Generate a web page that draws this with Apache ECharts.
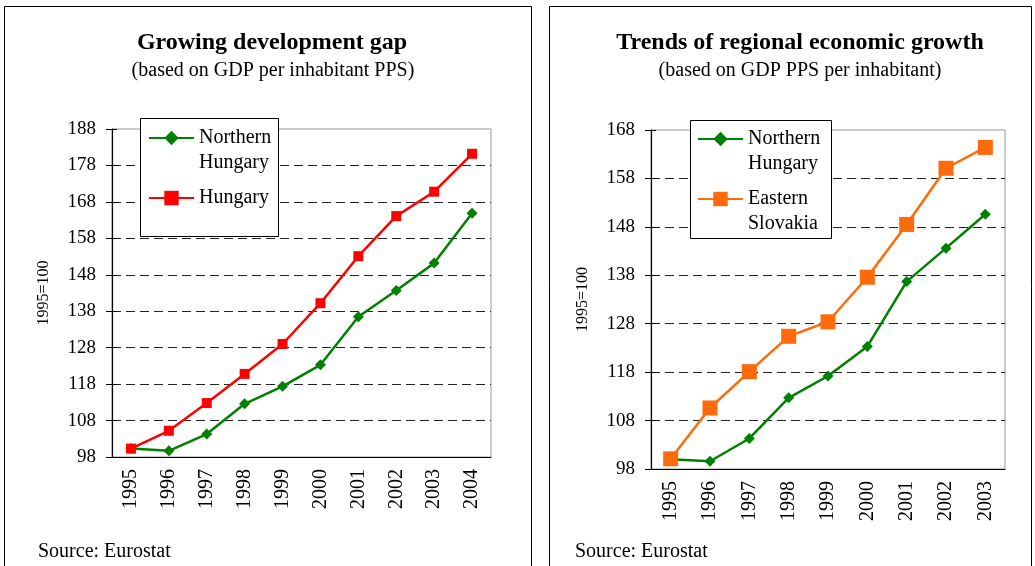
<!DOCTYPE html>
<html>
<head>
<meta charset="utf-8">
<script src="https://cdn.jsdelivr.net/npm/echarts@6/dist/echarts.min.js"></script>
<style>
  html, body { margin: 0; padding: 0; background: #fff; }
  #main { width: 1035px; height: 566px; }
</style>
</head>
<body>
<div id="main"></div>
<script>
var years1 = ['1995', '1996', '1997', '1998', '1999', '2000', '2001', '2002', '2003', '2004'];
var years2 = ['1995', '1996', '1997', '1998', '1999', '2000', '2001', '2002', '2003'];

// left chart: Growing development gap
var northHu1 = [100.3, 99.7, 104.3, 112.6, 117.4, 123.3, 136.5, 143.7, 151.2, 164.9];
var hungary = [100.3, 105.2, 112.8, 120.8, 129.0, 140.2, 153.1, 164.1, 170.8, 181.2];

// right chart: Trends of regional economic growth
var northHu2 = [100.0, 99.6, 104.3, 112.7, 117.2, 123.3, 136.7, 143.6, 150.6];
var eastSk = [100.1, 110.6, 118.1, 125.4, 128.4, 137.6, 148.5, 160.1, 164.4];

var serif = '"Liberation Serif", "DejaVu Serif", serif';
var chart = echarts.init(document.getElementById('main'));

function xAxisFor(idx, data) {
  return {
    type: 'category', gridIndex: idx, data: data,
    axisLine: { lineStyle: { color: '#000', width: 1 } },
    axisTick: { length: 6, lineStyle: { color: '#000' } },
    axisLabel: { rotate: 90, margin: 12, color: '#000', fontFamily: serif, fontSize: 20 }
  };
}

function yAxisFor(idx, max) {
  return {
    type: 'value', gridIndex: idx, min: 98, max: max, interval: 10, position: 'left',
    name: '1995=100', nameLocation: 'middle', nameRotate: 90, nameGap: 60,
    nameTextStyle: { color: '#000', fontFamily: serif, fontSize: 16 },
    axisLine: { show: true, lineStyle: { color: '#000', width: 1.2 } },
    axisTick: { show: true, length: 6, lineStyle: { color: '#000' } },
    axisLabel: { margin: 16, color: '#000', fontFamily: serif, fontSize: 19 },
    splitLine: { show: true, showMaxLine: false, lineStyle: { color: '#222', type: [9, 5], width: 1 } }
  };
}

// second axis only for the inner half of the crossing ticks
function innerTicks(idx, max) {
  return {
    type: 'value', gridIndex: idx, min: 98, max: max, interval: 10, position: 'left',
    axisLine: { show: false }, axisLabel: { show: false }, splitLine: { show: false },
    axisTick: { show: true, inside: true, length: 5, lineStyle: { color: '#000' } }
  };
}

function legendAt(name, text, left, top) {
  return {
    data: [name], left: left, top: top, orient: 'vertical', padding: 0,
    itemWidth: 45, itemHeight: 18, selectedMode: false,
    formatter: function () { return text; },
    textStyle: { color: '#000', fontFamily: serif, fontSize: 20, lineHeight: 25 }
  };
}

var option = {
  animation: false,
  backgroundColor: '#fff',
  grid: [
    { left: 112, top: 129, width: 379, height: 328, show: true, borderColor: '#999', borderWidth: 1 },
    { left: 651, top: 130, width: 354, height: 339, show: true, borderColor: '#999', borderWidth: 1 }
  ],
  xAxis: [xAxisFor(0, years1), xAxisFor(1, years2)],
  yAxis: [yAxisFor(0, 188), yAxisFor(1, 168), innerTicks(0, 188), innerTicks(1, 168)],
  legend: [
    legendAt('Northern Hungary', '\nNorthern\nHungary', 148, 100.5),
    legendAt('Hungary', 'Hungary', 148, 185.5),
    legendAt('Northern Hungary', '\nNorthern\nHungary', 697, 101.5),
    legendAt('Eastern Slovakia', '\nEastern\nSlovakia', 697, 161.5)
  ],
  series: [
    {
      name: 'Northern Hungary', type: 'line', xAxisIndex: 0, yAxisIndex: 0, data: northHu1,
      symbol: 'diamond', symbolSize: 11, color: '#008000',
      lineStyle: { width: 2.5 }, itemStyle: { color: '#008000' }
    },
    {
      name: 'Hungary', type: 'line', xAxisIndex: 0, yAxisIndex: 0, data: hungary,
      symbol: 'rect', symbolSize: 10, color: '#ff0000',
      lineStyle: { width: 2.5 }, itemStyle: { color: '#ff0000' }
    },
    {
      name: 'Northern Hungary', type: 'line', xAxisIndex: 1, yAxisIndex: 1, data: northHu2,
      symbol: 'diamond', symbolSize: 11, color: '#008000',
      lineStyle: { width: 2.5 }, itemStyle: { color: '#008000' }
    },
    {
      name: 'Eastern Slovakia', type: 'line', xAxisIndex: 1, yAxisIndex: 1, data: eastSk,
      symbol: 'rect', symbolSize: 15, color: '#ff6a0a',
      lineStyle: { width: 2.5 }, itemStyle: { color: '#ff6a0a' }
    }
  ],
  graphic: [
    // panel frames
    { type: 'rect', z: 0, shape: { x: 4.5, y: 6.5, width: 527, height: 580 }, style: { fill: null, stroke: '#000', lineWidth: 1 } },
    { type: 'rect', z: 0, shape: { x: 549.5, y: 6.5, width: 482, height: 580 }, style: { fill: null, stroke: '#000', lineWidth: 1 } },
    // legend boxes
    { type: 'rect', z: 3, shape: { x: 140.5, y: 118.5, width: 138, height: 118 }, style: { fill: '#fff', stroke: '#000', lineWidth: 1 } },
    { type: 'rect', z: 3, shape: { x: 690.5, y: 120.5, width: 141, height: 118 }, style: { fill: '#fff', stroke: '#000', lineWidth: 1 } },
    // titles
    { type: 'text', x: 272, y: 43, style: { text: 'Growing development gap', align: 'center', verticalAlign: 'middle', fill: '#000', font: 'bold 24px ' + serif } },
    { type: 'text', x: 273, y: 71, style: { text: '(based on GDP per inhabitant PPS)', align: 'center', verticalAlign: 'middle', fill: '#000', font: '20px ' + serif } },
    { type: 'text', x: 800, y: 43, style: { text: 'Trends of regional economic growth', align: 'center', verticalAlign: 'middle', fill: '#000', font: 'bold 24px ' + serif } },
    { type: 'text', x: 800, y: 71, style: { text: '(based on GDP PPS per inhabitant)', align: 'center', verticalAlign: 'middle', fill: '#000', font: '20px ' + serif } },
    // sources
    { type: 'text', x: 38, y: 552, style: { text: 'Source: Eurostat', align: 'left', verticalAlign: 'middle', fill: '#000', font: '20px ' + serif } },
    { type: 'text', x: 575, y: 552, style: { text: 'Source: Eurostat', align: 'left', verticalAlign: 'middle', fill: '#000', font: '20px ' + serif } }
  ]
};

chart.setOption(option);
</script>
</body>
</html>
